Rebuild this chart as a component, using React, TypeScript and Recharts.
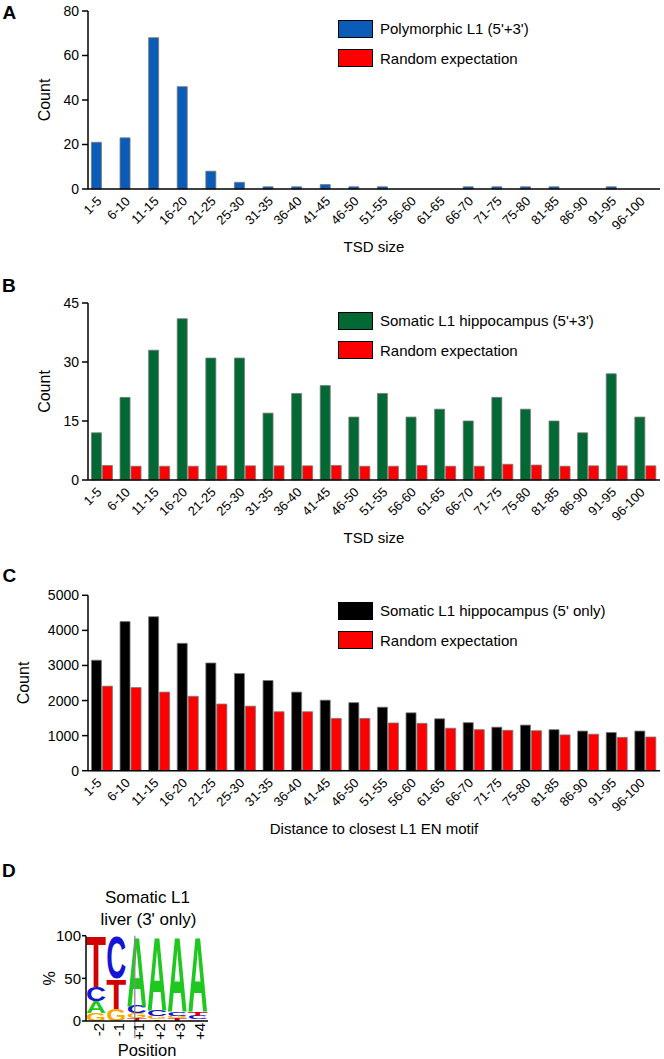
import React from 'react';
import { BarChart, Bar, XAxis, YAxis, Legend, ReferenceLine } from 'recharts';

const FONT = '"Liberation Sans", Arial, Helvetica, sans-serif';

// ---------- data ----------
const tsdBins = ['1-5', '6-10', '11-15', '16-20', '21-25', '25-30', '31-35', '36-40', '41-45', '46-50', '51-55', '56-60', '61-65', '66-70', '71-75', '75-80', '81-85', '86-90', '91-95', '96-100'];

const polymorphicCounts: (number | null)[] = [21, 23, 68, 46, 8, 3, 1, 1, 2, 1, 1, null, null, 1, 1, 1, 1, null, 1, null];
const polymorphicRandom: (number | null)[] = [null, null, null, null, null, null, null, null, null, null, null, null, null, null, null, null, null, null, null, null];

const hippoCounts = [12, 21, 33, 41, 31, 31, 17, 22, 24, 16, 22, 16, 18, 15, 21, 18, 15, 12, 27, 16];
const hippoRandom = [3.7, 3.5, 3.5, 3.5, 3.6, 3.6, 3.6, 3.6, 3.7, 3.5, 3.5, 3.7, 3.5, 3.5, 4.0, 3.8, 3.5, 3.6, 3.6, 3.6];

const motifCounts = [3150, 4250, 4390, 3630, 3070, 2770, 2570, 2240, 2010, 1940, 1810, 1650, 1480, 1370, 1240, 1300, 1170, 1130, 1090, 1130];
const motifRandom = [2410, 2370, 2240, 2120, 1900, 1840, 1680, 1680, 1490, 1490, 1360, 1350, 1210, 1170, 1150, 1140, 1020, 1040, 950, 960];

const polyTicks = [0, 20, 40, 60, 80];
const hippoTicks = [0, 15, 30, 45];
const motifTicks = [0, 1000, 2000, 3000, 4000, 5000];

const logoPositions = ['-2', '-1', '+1', '+2', '+3', '+4'];
const logoLetters = [
  ['G', 'A', 'C', 'T'],
  ['G', 'T', 'C'],
  ['T', 'G', 'C', 'A'],
  ['T', 'G', 'C', 'A'],
  ['T', 'G', 'C', 'A'],
  ['G', 'C', 'T', 'A'],
];
const logoPercents = [
  [9, 14, 17, 60],
  [14, 36, 50],
  [3, 6, 9, 82],
  [2, 4, 7, 87],
  [3, 3, 5, 89],
  [2, 4, 5, 89],
];
const logoTicks = [0, 50, 100];

const LETTER_COLORS: Record<string, string> = { A: '#1ec81e', C: '#1414d2', G: '#f8a800', T: '#d20000' };

const edgeTicks = tsdBins.map((_, i) => i).concat([tsdBins.length]);

// ---------- helpers ----------
const RotTick = (props: any) => {
  const { x, y, payload } = props;
  return (
    <text x={x} y={y} transform={`rotate(-45 ${x} ${y})`} textAnchor="end" fontSize={13} fill="#000">
      {payload.value}
    </text>
  );
};

const VertTick = (props: any) => {
  const { x, y, payload } = props;
  return (
    <text x={x} y={y} transform={`rotate(-90 ${x} ${y})`} textAnchor="end" dy="0.5em" fontSize={15} fill="#000">
      {payload.value}
    </text>
  );
};

const yTitle = (cx: number, text: string, fs: number) => (props: any) => {
  const vb = props.viewBox || {};
  const cy = (vb.y || 0) + (vb.height || 0) / 2;
  return (
    <text x={cx} y={cy} transform={`rotate(-90 ${cx} ${cy})`} textAnchor="middle" dominantBaseline="central" fontSize={fs} fill="#000">
      {text}
    </text>
  );
};

const seriesOrder = ['s', 'r'];

const renderLegend = (props: any) => {
  const payload = (props.payload || []).slice().sort(
    (a: any, b: any) => seriesOrder.indexOf(String(a.dataKey)) - seriesOrder.indexOf(String(b.dataKey)),
  );
  return (
    <div style={{ fontSize: 15, color: '#000', fontFamily: FONT }}>
      {payload.map((p: any, i: number) => (
        <div key={i} style={{ display: 'flex', alignItems: 'center', height: 29.5, whiteSpace: 'nowrap' }}>
          <div style={{ width: 33, height: 16, background: p.color, border: '1px solid #000', marginRight: 7, flex: 'none' }} />
          <span>{p.value}</span>
        </div>
      ))}
    </div>
  );
};

type Series = { key: string; name: string; color: string; values: (number | null)[] };

function HistPanel(props: {
  top: number; height: number; marginTop: number; plotBottom: number; series: Series[];
  yMax: number; yTicks: number[]; xTitle: string; legendTop: number; countX: number;
}) {
  const { top, height, marginTop, plotBottom, series, yMax, yTicks, xTitle, legendTop, countX } = props;
  const data = tsdBins.map((bin, i) => {
    const row: any = { bin };
    series.forEach((s) => { row[s.key] = s.values[i]; });
    return row;
  });
  const xAxisHeight = 66;
  const marginBottom = height - plotBottom - xAxisHeight;
  return (
    <div style={{ position: 'absolute', left: 0, top, width: 664, height }}>
      <BarChart width={664} height={height} data={data} margin={{ top: marginTop, right: 4, bottom: marginBottom, left: 0 }} barCategoryGap="12%" barGap={1}>
        <XAxis
          dataKey="bin" interval={0} tickLine={false} axisLine={{ stroke: '#000', strokeWidth: 1.5 }}
          height={xAxisHeight} tickSize={0} tickMargin={13} tick={(p: any) => <RotTick {...p} />}
          label={{ value: xTitle, position: 'insideBottom', offset: 3, fontSize: 15, fill: '#000' }}
        />
        <XAxis
          xAxisId="edge" type="number" domain={[0, tsdBins.length]} ticks={edgeTicks} allowDataOverflow mirror
          height={0} tick={false} axisLine={false} tickSize={5} tickLine={{ stroke: '#000', strokeWidth: 1.3 }}
        />
        <YAxis
          domain={[0, yMax]} ticks={yTicks} interval={0} width={88} tickSize={6} tickMargin={3}
          axisLine={{ stroke: '#000', strokeWidth: 1.5 }} tickLine={{ stroke: '#000', strokeWidth: 1.5 }}
          tick={{ fontSize: 14, fill: '#000' }} label={yTitle(countX, 'Count', 16)}
        />
        <Legend layout="vertical" align="center" verticalAlign="middle"
          wrapperStyle={{ left: 338, top: legendTop, width: 'auto', height: 'auto' }} content={renderLegend} />
        {series.map((s) => (
          <Bar key={s.key} dataKey={s.key} name={s.name} fill={s.color} stroke="#777" strokeWidth={0.8} isAnimationActive={false} />
        ))}
      </BarChart>
    </div>
  );
}

const makeLetterShape = (rank: number) => (props: any) => {
  const { x, y, width, height, payload } = props;
  const letter = payload ? payload[`l${rank}`] : undefined;
  if (!letter || !height || height <= 0) return <g />;
  const fs = 40;
  const sy = height / (0.716 * fs);
  return (
    <g transform={`translate(${x},${y + height}) scale(1,${sy})`}>
      <text x={0} y={0} fontSize={fs} fontWeight="bold" fill={LETTER_COLORS[letter]} textLength={width} lengthAdjust="spacingAndGlyphs">
        {letter}
      </text>
    </g>
  );
};

function LogoPanel() {
  const data = logoPositions.map((pos, i) => {
    const row: any = { pos };
    logoLetters[i].forEach((l, r) => { row[`l${r}`] = l; row[`v${r}`] = logoPercents[i][r]; });
    return row;
  });
  const boundary = logoPositions.indexOf('+1');
  return (
    <div style={{ position: 'absolute', left: 0, top: 860, width: 240, height: 199 }}>
      <BarChart width={240} height={199} data={data} margin={{ top: 75.7, right: 32, bottom: 0, left: 0 }} barCategoryGap={0} barGap={0}>
        <XAxis
          dataKey="pos" interval={0} tickLine={false} axisLine={{ stroke: '#000', strokeWidth: 1.5 }} height={38}
          tickSize={0} tickMargin={2} tick={(p: any) => <VertTick {...p} />}
          label={{ value: 'Position', position: 'insideBottom', offset: 3, fontSize: 16.5, fill: '#000' }}
        />
        <XAxis xAxisId="grid" type="number" domain={[0, logoPositions.length]} allowDataOverflow hide />
        <YAxis
          domain={[0, 100]} ticks={logoTicks} interval={0} width={86} tickSize={4} tickMargin={1}
          axisLine={{ stroke: '#000', strokeWidth: 1.5 }} tickLine={{ stroke: '#000', strokeWidth: 1.5 }}
          tick={{ fontSize: 15, fill: '#000' }} label={yTitle(50, '%', 16)}
        />
        {[0, 1, 2, 3].map((r) => (
          <Bar key={r} dataKey={`v${r}`} stackId="logo" shape={makeLetterShape(r)} isAnimationActive={false} />
        ))}
        <ReferenceLine xAxisId="grid" segment={[{ x: boundary, y: -20 }, { x: boundary, y: 100 }]} ifOverflow="visible" stroke="#8a8a8a" strokeWidth={1.3} />
      </BarChart>
    </div>
  );
}

export default function App() {
  return (
    <div style={{ position: 'absolute', left: 0, top: 0, width: 664, height: 1059, background: '#fff', fontFamily: FONT, overflow: 'hidden' }}>
      <HistPanel
        top={0} height={260} marginTop={11} plotBottom={189}
        series={[
          { key: 's', name: "Polymorphic L1 (5'+3')", color: '#0a5cb8', values: polymorphicCounts },
          { key: 'r', name: 'Random expectation', color: '#ff0000', values: polymorphicRandom },
        ]}
        yMax={80} yTicks={polyTicks} xTitle="TSD size" legendTop={14} countX={44.5}
      />
      <HistPanel
        top={260} height={290} marginTop={43} plotBottom={220}
        series={[
          { key: 's', name: "Somatic L1 hippocampus (5'+3')", color: '#036934', values: hippoCounts },
          { key: 'r', name: 'Random expectation', color: '#ff0000', values: hippoRandom },
        ]}
        yMax={45} yTicks={hippoTicks} xTitle="TSD size" legendTop={46} countX={44.5}
      />
      <HistPanel
        top={560} height={290} marginTop={35.3} plotBottom={210.7}
        series={[
          { key: 's', name: "Somatic L1 hippocampus (5' only)", color: '#000000', values: motifCounts },
          { key: 'r', name: 'Random expectation', color: '#ff0000', values: motifRandom },
        ]}
        yMax={5000} yTicks={motifTicks} xTitle="Distance to closest L1 EN motif" legendTop={36} countX={23.5}
      />
      <LogoPanel />
      <svg width={664} height={1059} style={{ position: 'absolute', left: 0, top: 0, pointerEvents: 'none' }}>
        <g fontWeight="bold" fontSize={19} fill="#000">
          <text x={2.5} y={18.5}>A</text>
          <text x={2} y={292}>B</text>
          <text x={2.5} y={582}>C</text>
          <text x={2} y={877}>D</text>
        </g>
        <g fontSize={17} fill="#000" textAnchor="middle">
          <text x={147.5} y={903}>Somatic L1</text>
          <text x={148.5} y={925}>liver (3' only)</text>
        </g>
      </svg>
    </div>
  );
}
